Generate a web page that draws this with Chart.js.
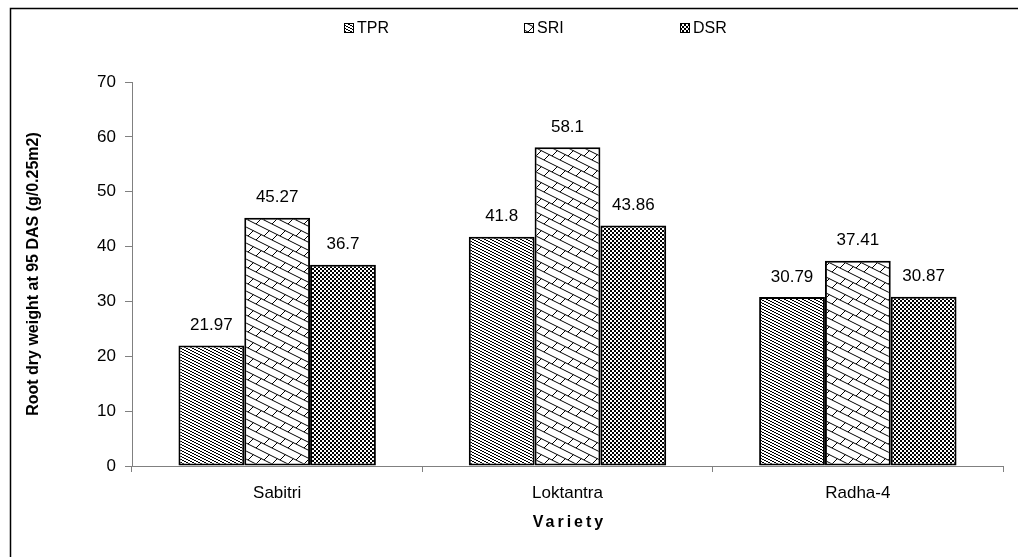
<!DOCTYPE html>
<html>
<head>
<meta charset="utf-8">
<script src="https://cdn.jsdelivr.net/npm/chart.js@4.4.0/dist/chart.umd.min.js"></script>
<style>
  html, body { margin: 0; padding: 0; background: #fff; }
</style>
</head>
<body>
<canvas id="mycanvas" width="1018" height="557"></canvas>
<script>
var varieties = ['Sabitri', 'Loktantra', 'Radha-4'];
var seriesNames = ['TPR', 'SRI', 'DSR'];
var tprValues = [21.97, 41.8, 30.79];
var sriValues = [45.27, 58.1, 37.41];
var dsrValues = [36.7, 43.86, 30.87];
var yTicks = [0, 10, 20, 30, 40, 50, 60, 70];

var FONT = "'Liberation Sans', Arial, sans-serif";
var canvas = document.getElementById('mycanvas');
var ctx = canvas.getContext('2d');

// small black & white tiles, like the old excel fill patterns
function tile(w, h, paint) {
  var c = document.createElement('canvas');
  c.width = w; c.height = h;
  var g = c.getContext('2d');
  g.fillStyle = '#fff';
  g.fillRect(0, 0, w, h);
  g.fillStyle = '#000';
  g.strokeStyle = '#000';
  paint(g, w, h);
  return ctx.createPattern(c, 'repeat');
}

var tprFill = tile(6, 3, function(g) {
  for (var x = 0; x < 6; x++) g.fillRect(x, Math.floor(x / 2), 1, 1);
});

var sriFill = tile(16, 16, function(g) {
  g.lineWidth = 1;
  g.beginPath();
  for (var k = -1; k <= 2; k++) {
    g.moveTo(0, 8 * k);
    g.lineTo(16, 8 * k + 8);
  }
  // short up-right links between the diagonals, staggered
  g.moveTo(0, 0); g.lineTo(5.4, -5.4);
  g.moveTo(0, 16); g.lineTo(5.4, 10.6);
  g.moveTo(8, 12); g.lineTo(13.4, 6.6);
  g.moveTo(8, -4); g.lineTo(13.4, -9.4);
  g.stroke();
});

var dsrFill = tile(4, 4, function(g) {
  g.fillRect(0, 0, 2, 2);
  g.fillRect(2, 2, 2, 2);
});

var fills = [tprFill, sriFill, dsrFill];

var extras = {
  id: 'extras',
  beforeDraw: function(chart) {
    var c = chart.ctx;
    c.save();
    c.fillStyle = '#fff';
    c.fillRect(0, 0, chart.width, chart.height);
    c.strokeStyle = '#000';
    c.lineWidth = 1.5;
    c.strokeRect(10.5, 8.5, 1100, 600);
    c.restore();
  },
  afterDatasetsDraw: function(chart) {
    var c = chart.ctx;
    c.save();
    c.font = '17px ' + FONT;
    c.fillStyle = '#000';
    c.textAlign = 'center';
    c.textBaseline = 'middle';
    chart.data.datasets.forEach(function(ds, i) {
      var meta = chart.getDatasetMeta(i);
      meta.data.forEach(function(bar, j) {
        c.fillText(String(ds.data[j]), bar.x, bar.y - 20);
      });
    });
    c.restore();
  },
  afterDraw: function(chart) {
    var c = chart.ctx;
    var a = chart.chartArea;
    c.save();
    // legend
    var legendX = [344, 524, 680];
    c.font = '16px ' + FONT;
    c.textBaseline = 'middle';
    c.textAlign = 'left';
    chart.data.datasets.forEach(function(ds, i) {
      var x = legendX[i], y = 28;
      c.fillStyle = ds.backgroundColor;
      c.fillRect(x, y - 5, 10, 10);
      c.strokeStyle = '#000';
      c.lineWidth = 1;
      c.strokeRect(x + 0.5, y - 4.5, 9, 9);
      c.fillStyle = '#000';
      c.fillText(ds.label, x + 13, y + 1);
    });
    // x axis title
    c.font = 'bold 16px ' + FONT;
    c.letterSpacing = '3px';
    c.textAlign = 'center';
    c.fillText('Variety', (a.left + a.right) / 2 + 2, 523);
    c.restore();
  }
};

var chart = new Chart(ctx, {
  type: 'bar',
  data: {
    labels: varieties,
    datasets: [
      { label: seriesNames[0], data: tprValues, backgroundColor: fills[0] },
      { label: seriesNames[1], data: sriValues, backgroundColor: fills[1] },
      { label: seriesNames[2], data: dsrValues, backgroundColor: fills[2] }
    ]
  },
  options: {
    responsive: false,
    animation: false,
    layout: { padding: { left: 0, right: 15, top: 82, bottom: 0 } },
    datasets: {
      bar: {
        borderColor: '#000',
        borderWidth: 2,
        borderSkipped: false,
        categoryPercentage: 0.68,
        barPercentage: 1
      }
    },
    plugins: {
      legend: { display: false },
      tooltip: { enabled: false }
    },
    scales: {
      x: {
        grid: { drawOnChartArea: false, drawTicks: true, tickLength: 6, color: '#808080', offset: true },
        border: { color: '#808080', width: 1 },
        ticks: { color: '#000', padding: 11, font: { family: FONT, size: 17 } },
        afterFit: function(s) { s.height = 91; }
      },
      y: {
        min: 0,
        max: 70,
        afterBuildTicks: function(s) {
          s.ticks = yTicks.map(function(v) { return { value: v }; });
        },
        grid: { drawOnChartArea: false, drawTicks: true, tickLength: 7, color: '#808080' },
        border: { color: '#808080', width: 1 },
        ticks: { color: '#000', padding: 9, font: { family: FONT, size: 17 } },
        title: {
          display: true,
          text: 'Root dry weight at 95 DAS (g/0.25m2)',
          color: '#000',
          font: { family: FONT, size: 16, weight: 'bold' },
          padding: { top: 24, bottom: 0 }
        },
        afterFit: function(s) { s.width = 132; }
      }
    }
  },
  plugins: [extras]
});
</script>
</body>
</html>
